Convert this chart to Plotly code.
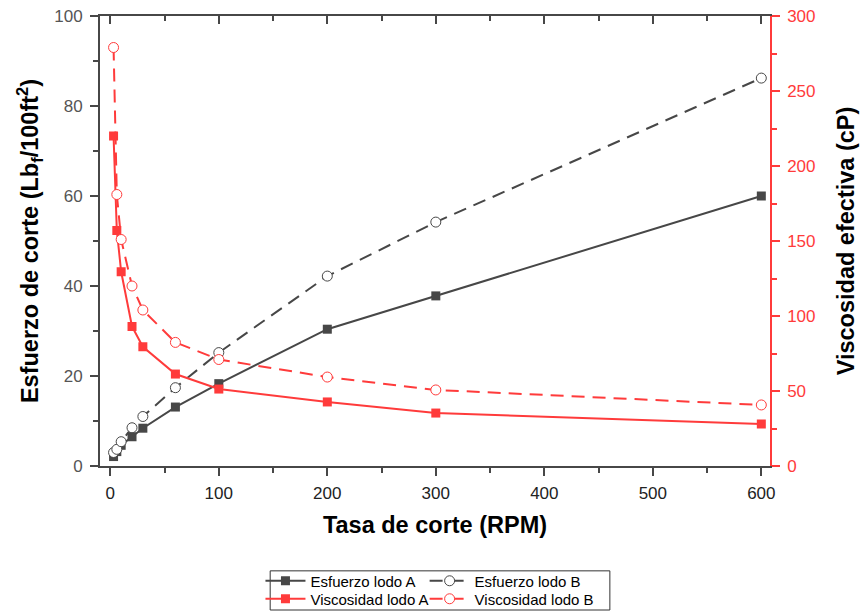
import plotly.graph_objects as go

rpm = [3, 6, 10, 20, 30, 60, 100, 200, 300, 600]
esf_a = [2.1, 3.2, 4.6, 6.5, 8.4, 13.1, 18.3, 30.4, 37.8, 60.0]
esf_b = [3.0, 3.7, 5.4, 8.5, 11.0, 17.4, 25.2, 42.2, 54.2, 86.2]
visc_a = [220, 157, 129.5, 93, 79.5, 61.3, 51.3, 42.7, 35.3, 28]
visc_b = [279, 181, 151, 120, 104, 82.4, 71, 59.3, 50.7, 40.7]

GRAY = "#474747"
RED = "#ff3b3b"
FONT = "Liberation Sans, Arial, sans-serif"
DASH = "13px,8px"

fig = go.Figure()
fig.add_trace(go.Scatter(x=rpm, y=esf_a, name="Esfuerzo lodo A", mode="lines+markers",
                         line=dict(color=GRAY, width=2), marker=dict(symbol="square", size=9, color=GRAY),
                         legend="legend"))
fig.add_trace(go.Scatter(x=rpm, y=esf_b, name="Esfuerzo lodo B", mode="lines+markers",
                         line=dict(color=GRAY, width=2, dash=DASH),
                         marker=dict(symbol="circle", size=10, color="white", line=dict(color=GRAY, width=1)),
                         legend="legend2"))
fig.add_trace(go.Scatter(x=rpm, y=visc_a, name="Viscosidad lodo A", mode="lines+markers", yaxis="y2",
                         line=dict(color=RED, width=2), marker=dict(symbol="square", size=9, color=RED),
                         legend="legend3"))
fig.add_trace(go.Scatter(x=rpm, y=visc_b, name="Viscosidad lodo B", mode="lines+markers", yaxis="y2",
                         line=dict(color=RED, width=2, dash=DASH),
                         marker=dict(symbol="circle", size=10, color="white", line=dict(color=RED, width=1)),
                         legend="legend4"))
# helper trace for the top axis
fig.add_trace(go.Scatter(x=[0], y=[0], xaxis="x2", mode="markers", marker=dict(opacity=0),
                         showlegend=False, hoverinfo="skip"))

XR = [-9.5, 608]
MAJ_X = [0, 100, 200, 300, 400, 500, 600]
MIN_X = [50, 150, 250, 350, 450, 550]


def leg(x, y):
    return dict(x=x, y=y, xanchor="left", yanchor="middle", bgcolor="rgba(0,0,0,0)",
                font=dict(size=15, color="black"), tracegroupgap=0, itemwidth=40)


fig.update_layout(
    width=860, height=612,
    margin=dict(l=100, r=90, t=16, b=146, autoexpand=False),
    plot_bgcolor="white", paper_bgcolor="white",
    font=dict(family=FONT, size=17, color="#555555"),
    xaxis=dict(range=XR, tickvals=MAJ_X, showgrid=False, zeroline=False,
               showline=True, linecolor=GRAY, linewidth=2, ticks="outside", ticklen=8, tickwidth=1.5,
               tickcolor=GRAY, tickfont=dict(color="#222222"), ticklabelstandoff=3,
               minor=dict(tickvals=MIN_X, ticklen=5, tickwidth=1.5, tickcolor=GRAY, ticks="outside"),
               title=dict(text="<b>Tasa de corte (RPM)</b>", font=dict(size=23.5, color="black"), standoff=14)),
    xaxis2=dict(range=XR, overlaying="x", side="top", showticklabels=False, showgrid=False, zeroline=False,
                showline=True, linecolor=GRAY, linewidth=2, ticks="inside", ticklen=8, tickwidth=1.5,
                tickcolor=GRAY, tickvals=MAJ_X,
                minor=dict(tickvals=MIN_X, ticklen=5, tickwidth=1.5, tickcolor=GRAY, ticks="inside")),
    yaxis=dict(range=[0, 100], tickvals=[0, 20, 40, 60, 80, 100], showgrid=False, zeroline=False,
               showline=True, linecolor=GRAY, linewidth=2, ticks="outside", ticklen=8, tickwidth=1.5,
               tickcolor=GRAY, ticklabelstandoff=4,
               minor=dict(tickvals=[10, 30, 50, 70, 90], ticklen=5, tickwidth=1.5,
                          tickcolor=GRAY, ticks="outside"),
               title=dict(text="<b>Esfuerzo de corte (Lb<sub>f</sub>/100ft<sup>2</sup>)</b>",
                          font=dict(size=23.5, color="black"), standoff=9)),
    yaxis2=dict(range=[0, 300], overlaying="y", side="right", tickvals=[0, 50, 100, 150, 200, 250, 300],
                showgrid=False, zeroline=False, showline=True, linecolor=RED, linewidth=1.5,
                ticks="outside", ticklen=8, tickwidth=1.5, tickcolor=RED, tickfont=dict(color=RED),
                ticklabelstandoff=4,
                minor=dict(tickvals=[25, 75, 125, 175, 225, 275], ticklen=5, tickwidth=1.5,
                           tickcolor=RED, ticks="outside"),
                title=dict(text="<b>Viscosidad efectiva (cP)</b>", font=dict(size=23.5, color="black"),
                           standoff=23)),
    legend=leg(0.2395, -0.2556),
    legend2=leg(0.4845, -0.2556),
    legend3=leg(0.2395, -0.2956),
    legend4=leg(0.4845, -0.2956),
    shapes=[dict(type="rect", xref="paper", yref="paper", x0=0.254, x1=0.761, y0=-0.32, y1=-0.233,
                 line=dict(color="#333333", width=1), fillcolor="rgba(0,0,0,0)")],
    showlegend=True,
)

fig.write_html("out.html")
